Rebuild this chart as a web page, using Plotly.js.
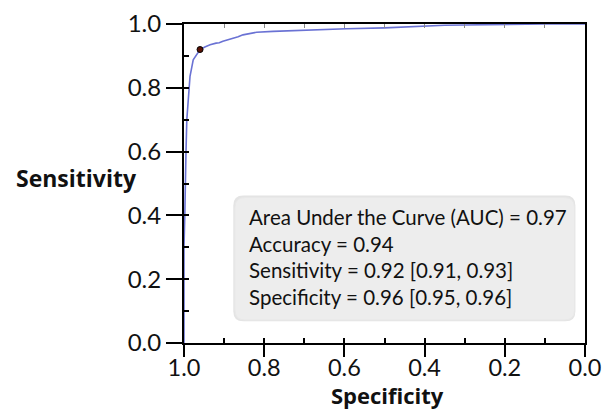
<!DOCTYPE html>
<html>
<head>
<meta charset="utf-8">
<script src="https://cdn.plot.ly/plotly-3.0.1.min.js"></script>
<style>html,body{margin:0;padding:0;background:#fff;}#chart{width:603px;height:409px;}</style>
</head>
<body>
<div id="chart"></div>
<script>
// ROC curve values
const specificity = [1.0, 1.0, 0.998, 0.997, 0.995, 0.993, 0.989, 0.985, 0.977, 0.968, 0.96, 0.948, 0.935, 0.92, 0.912, 0.903, 0.89, 0.878, 0.865, 0.853, 0.835, 0.819, 0.778, 0.735, 0.694, 0.64, 0.595, 0.5, 0.45, 0.4, 0.35, 0.3, 0.25, 0.2, 0.15, 0.1, 0.0];
const sensitivity = [0.0, 0.3, 0.4, 0.5, 0.6, 0.7, 0.77, 0.836, 0.888, 0.905, 0.92, 0.928, 0.935, 0.94, 0.941, 0.946, 0.95, 0.956, 0.96, 0.966, 0.971, 0.974, 0.977, 0.979, 0.982, 0.983, 0.985, 0.988, 0.991, 0.995, 0.996, 0.997, 0.998, 0.998, 0.999, 1.0, 1.0];
// Operating point
const pointSpecificity = [0.96];
const pointSensitivity = [0.92];
// Summary statistics
const statLines = [
  "Area Under the Curve (AUC) = 0.97",
  "Accuracy = 0.94",
  "Sensitivity = 0.92 [0.91, 0.93]",
  "Specificity = 0.96 [0.95, 0.96]"
];
const xTickVals = [1.0, 0.8, 0.6, 0.4, 0.2, 0.0];
const xTickText = ["1.0", "0.8", "0.6", "0.4", "0.2", "0.0"];
const yTickVals = [0.0, 0.2, 0.4, 0.6, 0.8, 1.0];
const yTickText = ["0.0", "0.2", "0.4", "0.6", "0.8", "1.0"];
const xTitle = "Specificity";
const yTitle = "Sensitivity";

const FONT = "Lato, 'Open Sans', sans-serif";
const BOLD = "'Open Sans', sans-serif";

const traces = [
  {x: specificity, y: sensitivity, type: 'scatter', mode: 'lines',
   line: {color: '#6a72d4', width: 1.6}, hoverinfo: 'skip', showlegend: false},
  {x: pointSpecificity, y: pointSensitivity, type: 'scatter', mode: 'markers',
   marker: {color: '#5a1205', size: 6, line: {color: '#000', width: 1}}, showlegend: false},
  {x: [], y: [], xaxis: 'x2', yaxis: 'y', type: 'scatter', showlegend: false},
  {x: [], y: [], xaxis: 'x3', yaxis: 'y', type: 'scatter', showlegend: false},
  {x: [], y: [], xaxis: 'x4', yaxis: 'y', type: 'scatter', showlegend: false},
  {x: [], y: [], xaxis: 'x', yaxis: 'y2', type: 'scatter', showlegend: false}
];

const rx = 0.025, ry = 0.031;
const bx0 = 0.127, bx1 = 0.974, by0 = 0.072, by1 = 0.456;
function roundRect(x0, y0, x1, y1) {
  return `M ${x0+rx} ${y0} L ${x1-rx} ${y0} Q ${x1} ${y0} ${x1} ${y0+ry} L ${x1} ${y1-ry} Q ${x1} ${y1} ${x1-rx} ${y1} L ${x0+rx} ${y1} Q ${x0} ${y1} ${x0} ${y1-ry} L ${x0} ${y0+ry} Q ${x0} ${y0} ${x0+rx} ${y0} Z`;
}

const layout = {
  width: 603, height: 409,
  margin: {l: 184, r: 17.5, t: 24.3, b: 66.2, pad: 0},
  paper_bgcolor: '#fff', plot_bgcolor: '#fff',
  showlegend: false,
  font: {family: FONT, color: '#111'},
  xaxis: {
    range: [1, 0], autorange: false, showgrid: false, zeroline: false,
    showline: true, linecolor: '#000', linewidth: 2, mirror: true,
    ticks: 'outside', ticklen: 12, tickwidth: 2, tickcolor: '#000',
    tickvals: xTickVals, ticktext: xTickText, ticklabelstandoff: -9,
    tickfont: {family: FONT, size: 23.5, color: '#111'}
  },
  xaxis2: {
    overlaying: 'x', side: 'top', anchor: 'y', range: [1, 0], autorange: false,
    showgrid: false, zeroline: false, showline: false,
    ticks: 'inside', ticklen: 4, tickwidth: 1, tickcolor: '#888', dtick: 0.1, tick0: 0,
    showticklabels: false
  },
  xaxis3: {
    overlaying: 'x', side: 'bottom', anchor: 'y', range: [1, 0], autorange: false,
    showgrid: false, zeroline: false, showline: false,
    ticks: 'inside', ticklen: 5, tickwidth: 2, tickcolor: '#000', dtick: 0.1, tick0: 0,
    showticklabels: false
  },
  xaxis4: {
    overlaying: 'x', side: 'bottom', anchor: 'y', range: [1, 0], autorange: false,
    showgrid: false, zeroline: false, showline: false,
    ticks: 'outside', ticklen: 13, tickwidth: 2, tickcolor: '#000', tickvals: xTickVals,
    showticklabels: false
  },
  yaxis: {
    range: [0, 1], autorange: false, showgrid: false, zeroline: false,
    showline: true, linecolor: '#000', linewidth: 2, mirror: true,
    ticks: 'outside', ticklen: 16, tickwidth: 2, tickcolor: '#000',
    tickvals: yTickVals, ticktext: yTickText,
    tickfont: {family: FONT, size: 24, color: '#111'}
  },
  yaxis2: {
    overlaying: 'y', side: 'left', anchor: 'x', range: [0, 1], autorange: false,
    showgrid: false, zeroline: false, showline: false,
    ticks: 'inside', ticklen: 5, tickwidth: 2, tickcolor: '#000', dtick: 0.1, tick0: 0,
    showticklabels: false
  },
  shapes: [
    {type: 'path', xref: 'paper', yref: 'paper', path: roundRect(bx0 - 0.004, by0 - 0.004, bx1 + 0.002, by1 + 0.006),
     fillcolor: '#e4e4e4', line: {width: 0}, layer: 'below'},
    {type: 'path', xref: 'paper', yref: 'paper', path: roundRect(bx0, by0, bx1, by1),
     fillcolor: '#ededed', line: {color: '#e8e8e8', width: 1}, layer: 'below'}
  ],
  annotations: [
    {xref: 'paper', yref: 'paper', x: -0.424, y: 0.516, xanchor: 'left', yanchor: 'middle',
     text: yTitle, showarrow: false,
     font: {family: BOLD, size: 23, weight: 'bold', color: '#111'}},
    {xref: 'paper', yref: 'paper', x: 0.508, y: -0.213, xanchor: 'center', yanchor: 'bottom',
     text: xTitle, showarrow: false, borderpad: 0,
     font: {family: BOLD, size: 22, weight: 'bold', color: '#111'}},
    {xref: 'paper', yref: 'paper', x: 0.158, y: 0.269, xanchor: 'left', yanchor: 'middle', align: 'left',
     text: statLines.join('<br>'), showarrow: false,
     font: {family: FONT, size: 20.5, color: '#111'}}
  ]
};

Plotly.newPlot('chart', traces, layout, {staticPlot: true, displayModeBar: false});
</script>
</body>
</html>
